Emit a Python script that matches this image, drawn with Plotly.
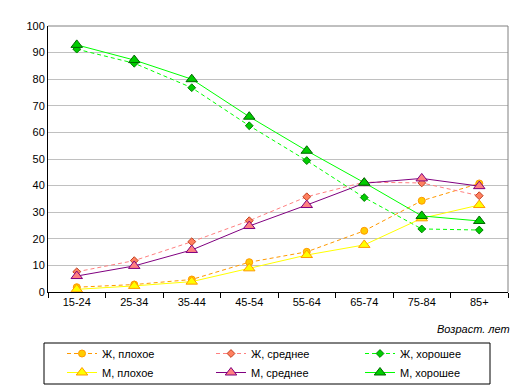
import plotly.graph_objects as go

categories = ["15-24", "25-34", "35-44", "45-54", "55-64", "65-74", "75-84", "85+"]

f_poor = [1.8, 2.8, 4.7, 11.2, 15.1, 23.0, 34.3, 40.8]
f_avg = [7.6, 11.8, 18.9, 26.8, 35.8, 41.3, 41.0, 36.2]
f_good = [91.3, 86.0, 76.8, 62.5, 49.4, 35.5, 23.7, 23.3]
m_poor = [1.0, 2.3, 3.9, 8.9, 13.9, 17.7, 27.7, 32.7]
m_avg = [6.0, 9.8, 15.8, 24.8, 32.7, 40.9, 42.7, 39.8]
m_good = [92.9, 87.2, 80.0, 65.9, 53.1, 41.1, 28.6, 26.7]

y_ticks = [0, 10, 20, 30, 40, 50, 60, 70, 80, 90, 100]

series = [
    ("Ж, плохое", f_poor, "#FF9900", "4px,3px", "circle", "#FFCC00", "#FF9900", 7),
    ("Ж, среднее", f_avg, "#FF8080", "4px,3px", "diamond", "#FF8060", "#C04020", 6),
    ("Ж, хорошее", f_good, "#00FF00", "4px,3px", "diamond", "#00CC00", "#008000", 6),
    ("М, плохое", m_poor, "#FFFF00", "solid", "triangle-up", "#FFFF00", "#FF9900", 10),
    ("М, среднее", m_avg, "#800080", "solid", "triangle-up", "#FF8080", "#800080", 10),
    ("М, хорошее", m_good, "#00FF00", "solid", "triangle-up", "#00CC00", "#006600", 10),
]

fig = go.Figure()
for name, vals, lc, dash, sym, fc, bc, sz in series:
    fig.add_trace(go.Scatter(
        x=categories, y=vals, name=name, mode="lines+markers",
        line=dict(color=lc, width=1, dash=dash),
        marker=dict(symbol=sym, size=sz, color=fc, line=dict(color=bc, width=1)),
    ))

fig.update_layout(
    width=524, height=391,
    margin=dict(l=48, r=16, t=26, b=99, autoexpand=False),
    paper_bgcolor="white", plot_bgcolor="white",
    font=dict(family="Liberation Sans, Arial, sans-serif", size=11, color="black"),
    showlegend=True,
    legend=dict(
        orientation="h", xref="container", yref="container",
        x=62 / 524, y=1 - 339 / 391, xanchor="left", yanchor="top",
        entrywidth=104, entrywidthmode="pixels",
        borderwidth=0, bgcolor="rgba(0,0,0,0)",
        font=dict(size=11), tracegroupgap=0, itemclick=False,
    ),
    xaxis=dict(
        type="category", range=[-0.5, 7.5],
        showline=True, linecolor="black", linewidth=1, mirror=False,
        ticks="outside", tickson="boundaries", ticklen=5, tickcolor="black",
        showgrid=False, tickfont=dict(size=11),
    ),
    yaxis=dict(
        range=[0, 100], tickvals=y_ticks,
        showline=True, linecolor="black", linewidth=1,
        ticks="", showgrid=True, gridcolor="#C0C0C0", gridwidth=1,
        zeroline=False, tickfont=dict(size=11),
    ),
    shapes=[
        dict(type="line", xref="paper", yref="paper", x0=0, x1=1, y0=1, y1=1,
             line=dict(color="#808080", width=1)),
        dict(type="line", xref="paper", yref="paper", x0=1, x1=1, y0=0, y1=1,
             line=dict(color="#808080", width=1)),
        dict(type="rect", xref="paper", yref="paper",
             x0=(44 - 48) / 460, x1=(490 - 48) / 460,
             y0=(292 - 384) / 266, y1=(292 - 343) / 266,
             line=dict(color="black", width=1), fillcolor="white", layer="below"),
    ],
    annotations=[
        dict(text="<i>Возраст. лет</i>", xref="paper", yref="paper",
             x=1.008, y=-0.14, xanchor="right", yanchor="middle",
             showarrow=False, font=dict(size=11)),
    ],
)

fig.write_html("out.html", config={"displayModeBar": False},
               post_script="document.body.style.margin='0';")
